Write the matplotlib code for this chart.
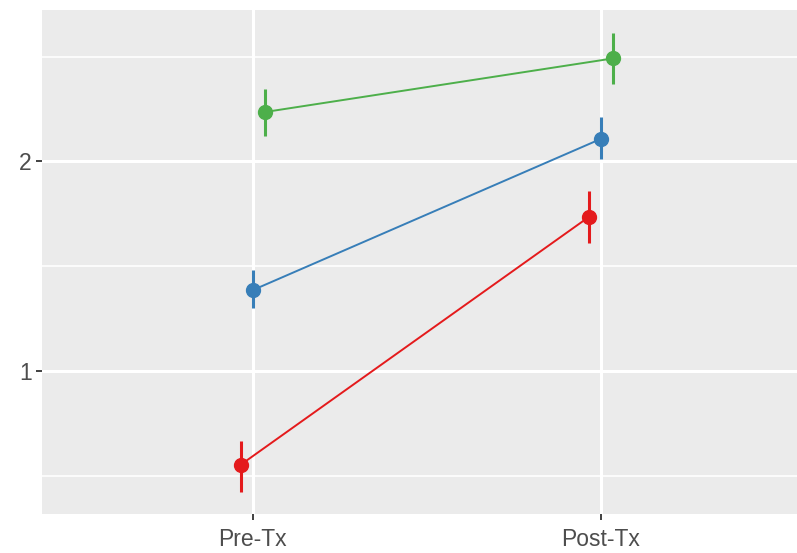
import matplotlib
matplotlib.use("Agg")
import matplotlib.pyplot as plt
import numpy as np

categories = ["Pre-Tx", "Post-Tx"]
groups = ["red", "blue", "green"]
colors = {"red": "#E41A1C", "blue": "#377EB8", "green": "#4DAF4A"}
means = {
    "red":   [0.552, 1.735],
    "blue":  [1.386, 2.108],
    "green": [2.236, 2.492],
}
lower = {
    "red":   [0.424, 1.612],
    "blue":  [1.300, 2.013],
    "green": [2.124, 2.370],
}
upper = {
    "red":   [0.667, 1.857],
    "blue":  [1.481, 2.210],
    "green": [2.348, 2.613],
}
dodge = {"red": -0.035, "blue": 0.0, "green": 0.035}

W, H = 797, 553
fig = plt.figure(figsize=(W / 100, H / 100), dpi=100)
ax = fig.add_axes([42 / W, 39.5 / H, (797 - 42) / W, (513.5 - 10) / H])
ax.set_facecolor("#EBEBEB")

x0 = np.arange(1, len(categories) + 1)
ax.set_xlim(0.395, 2.563)
ax.set_ylim(0.320, 2.723)

# gridlines
for y in [0.5, 1.5, 2.5]:
    ax.axhline(y, color="white", lw=1.2, zorder=0)
for y in [1, 2]:
    ax.axhline(y, color="white", lw=2.2, zorder=0)
for x in x0:
    ax.axvline(x, color="white", lw=2.2, zorder=0)

for g in groups:
    xs = x0 + dodge[g]
    m = np.array(means[g])
    lo = np.array(lower[g])
    hi = np.array(upper[g])
    ax.plot(xs, m, color=colors[g], lw=1.4, zorder=2)
    ax.vlines(xs, lo, hi, color=colors[g], lw=2.2, zorder=3)
    ax.plot(xs, m, "o", color=colors[g], ms=10, mec=colors[g], zorder=4)

ax.set_xticks(x0)
ax.set_xticklabels(categories)
ax.set_yticks([1, 2])
ax.set_yticklabels(["1", "2"])
ax.tick_params(axis="both", length=4.5, width=1.3, color="#333333",
               labelcolor="#4D4D4D", labelsize=16.5)
ax.tick_params(axis="x", pad=6)
ax.tick_params(axis="y", pad=3)
for lab in ax.get_xticklabels() + ax.get_yticklabels():
    lab.set_family(["Liberation Sans", "DejaVu Sans"])
for s in ax.spines.values():
    s.set_visible(False)

fig.savefig("out.png", dpi=100)
